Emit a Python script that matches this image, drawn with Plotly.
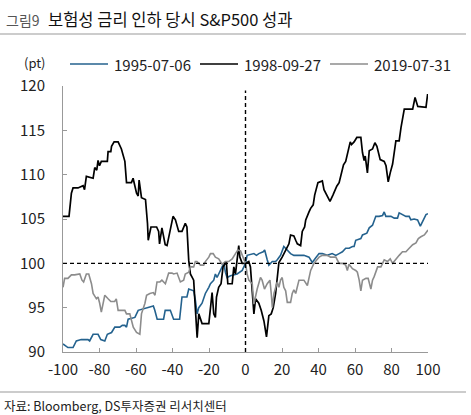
import plotly.graph_objects as go

# ---- data ----
x_1995 = [-100, -97.3, -94.5, -92.7, -90.0, -86.3, -85.4, -83.5, -80.8, -79.3, -77.1, -75.7, -73.4, -71.6, -68.9, -67.5, -66.1, -65.2, -64.3, -60.6, -58.8, -55.1, -53.3, -50.5, -49.7, -48.4, -44.9, -44.0, -41.2, -39.4, -36.1, -34.8, -32.1, -31.1, -28.4, -27.5, -26.5, -25.6, -23.8, -22.0, -20.1, -19.2, -17.4, -16.5, -15.6, -13.7, -11.9, -11.0, -10.1, -8.2, -4.6, -1.8, 0, 0.9, 4.6, 6.0, 7.3, 9.7, 10.5, 11.9, 12.8, 14.7, 16.5, 17.4, 19.2, 21.0, 22.9, 24.7, 26.5, 29.3, 32.0, 34.8, 36.6, 38.4, 40.3, 42.1, 44.8, 47.5, 49.5, 51.3, 53.1, 54.9, 56.8, 58.6, 59.5, 60.4, 63.2, 64.1, 66.5, 67.8, 69.6, 71.4, 73.2, 75.1, 76.0, 76.9, 79.7, 81.5, 83.3, 84.2, 86.0, 87.9, 89.7, 90.6, 92.4, 94.3, 95.8, 97.1, 98.9, 100]
y_1995 = [90.9, 90.5, 90.5, 91.25, 91.4, 91.4, 91.25, 92.0, 92.0, 91.4, 91.25, 92.0, 92.2, 92.8, 92.8, 93.0, 93.0, 92.8, 93.7, 93.9, 94.7, 94.9, 95.0, 95.2, 94.7, 93.7, 93.7, 94.7, 94.7, 93.7, 93.7, 96.2, 96.2, 97.1, 96.9, 95.9, 94.3, 95.0, 95.5, 96.6, 97.3, 97.7, 98.1, 98.8, 98.4, 99.2, 100.0, 99.0, 98.4, 98.6, 98.8, 99.2, 100.0, 100.9, 101.1, 100.9, 101.1, 101.3, 101.5, 100.4, 99.8, 100.2, 100.2, 100.4, 100.9, 101.9, 101.5, 101.1, 100.9, 100.9, 100.9, 100.7, 100.1, 100.6, 101.1, 101.1, 100.9, 101.1, 100.9, 101.1, 101.3, 101.7, 101.7, 101.9, 101.9, 102.6, 102.8, 103.2, 103.4, 104.0, 104.3, 105.3, 105.3, 105.4, 105.8, 105.3, 105.3, 105.1, 105.1, 105.7, 105.5, 105.3, 105.3, 104.9, 105.0, 104.9, 104.2, 104.7, 105.5, 105.6]

x_1998 = [-100, -96.7, -95.4, -94.5, -91.8, -89.0, -88.2, -87.2, -83.5, -82.6, -81.5, -80.8, -80.0, -79.0, -75.7, -75.3, -73.8, -73.4, -72.0, -69.8, -68.0, -66.1, -65.2, -62.5, -61.6, -60.7, -59.7, -58.8, -58.3, -57.0, -54.8, -53.7, -53.3, -51.8, -48.7, -47.6, -47.1, -45.8, -44.0, -43.0, -41.2, -39.7, -38.4, -36.6, -34.8, -33.0, -32.1, -31.1, -30.2, -28.4, -27.5, -26.5, -25.6, -23.8, -20.1, -19.2, -18.3, -17.4, -16.5, -15.9, -14.7, -13.4, -12.3, -11.0, -10.5, -9.7, -7.3, -6.4, -5.5, -4.2, -3.7, -3.1, -1.8, 0, 1.8, 2.7, 4.2, 4.6, 5.5, 7.3, 8.6, 10.1, 11.5, 12.8, 14.1, 15.2, 16.5, 17.4, 18.3, 20.1, 21.0, 22.9, 23.8, 24.7, 26.5, 27.5, 28.4, 30.2, 31.1, 32.4, 33.0, 34.8, 35.7, 37.1, 37.9, 39.7, 42.1, 43.0, 44.5, 46.3, 47.9, 50.0, 51.3, 53.7, 54.9, 56.8, 57.4, 58.1, 59.5, 61.0, 63.2, 64.1, 65.0, 65.6, 66.8, 67.8, 69.6, 70.9, 72.0, 73.8, 76.0, 77.0, 78.2, 79.3, 80.6, 82.4, 84.2, 85.2, 87.0, 91.6, 92.9, 94.4, 98.9, 99.8]
y_1998 = [105.3, 105.3, 107.9, 108.5, 108.5, 108.75, 108.3, 109.8, 109.6, 110.8, 110.5, 111.6, 111.0, 111.5, 111.5, 112.6, 112.6, 113.2, 113.7, 113.7, 112.9, 111.5, 109.1, 109.1, 109.6, 108.7, 107.9, 107.6, 109.4, 107.4, 107.2, 104.5, 102.6, 104.1, 104.1, 103.6, 102.2, 104.0, 102.1, 102.0, 103.9, 105.3, 104.9, 103.6, 103.6, 104.5, 104.1, 100.3, 98.8, 98.1, 95.0, 91.6, 94.3, 93.2, 93.2, 94.7, 96.7, 94.3, 93.9, 96.2, 97.3, 97.7, 99.6, 100.0, 100.2, 97.7, 97.7, 99.6, 98.8, 101.1, 102.0, 100.7, 100.0, 100.0, 100.2, 99.6, 95.8, 94.3, 96.0, 95.5, 94.7, 93.5, 91.7, 94.1, 94.3, 95.0, 96.6, 98.4, 100.1, 100.7, 101.1, 101.9, 102.2, 103.2, 103.1, 102.6, 102.2, 102.0, 103.6, 104.1, 104.9, 105.8, 106.2, 106.6, 107.7, 109.1, 109.3, 108.3, 107.7, 107.0, 107.7, 108.7, 109.1, 111.1, 111.5, 113.4, 113.7, 113.4, 113.7, 114.2, 114.2, 112.5, 111.6, 112.1, 110.2, 112.7, 112.9, 113.6, 113.2, 111.7, 111.5, 111.0, 109.2, 110.2, 111.2, 113.8, 113.8, 115.3, 117.4, 117.4, 118.7, 117.7, 117.6, 119.1]

x_2019 = [-100, -99.1, -97.3, -96.4, -95.4, -93.6, -91.8, -90.8, -89.6, -88.7, -87.2, -85.9, -84.4, -83.5, -81.7, -80.8, -79.9, -79.0, -78.1, -77.1, -75.3, -73.8, -72.6, -71.7, -70.8, -69.8, -66.1, -65.2, -63.4, -61.5, -59.7, -57.9, -57.0, -55.1, -54.2, -52.4, -50.5, -49.6, -48.5, -46.9, -45.8, -43.9, -42.1, -40.3, -39.4, -37.5, -35.7, -33.9, -33.0, -31.1, -30.2, -28.4, -27.5, -26.6, -24.7, -22.9, -22.0, -20.1, -19.2, -17.7, -16.5, -14.7, -12.8, -11.0, -9.2, -7.3, -5.5, -4.2, -2.7, -1.3, 0, 0.9, 1.8, 3.7, 4.6, 6.4, 8.2, 9.1, 10.4, 11.9, 13.4, 14.1, 14.7, 15.6, 16.5, 17.4, 18.3, 19.2, 20.1, 21.0, 22.0, 22.9, 24.7, 25.6, 26.5, 27.5, 29.3, 32.0, 33.9, 34.8, 35.7, 37.5, 40.3, 42.1, 44.8, 46.6, 49.5, 51.3, 53.1, 54.9, 55.8, 56.7, 58.6, 60.4, 61.3, 62.3, 63.2, 64.1, 66.0, 67.2, 68.7, 69.6, 70.5, 72.4, 74.2, 75.1, 76.0, 77.8, 79.3, 80.6, 82.4, 84.2, 86.0, 87.9, 89.7, 91.6, 93.4, 94.7, 96.1, 98.0, 100]
y_2019 = [97.3, 98.3, 98.3, 98.5, 98.7, 98.7, 98.8, 98.8, 98.1, 97.9, 98.8, 98.8, 97.7, 96.6, 96.0, 96.2, 95.5, 94.5, 95.4, 96.4, 96.0, 95.7, 95.7, 95.7, 96.0, 94.7, 94.7, 94.3, 94.3, 92.8, 92.2, 92.0, 94.3, 95.5, 96.4, 96.6, 96.7, 96.4, 97.9, 97.9, 98.1, 97.7, 98.9, 98.9, 98.8, 98.9, 97.9, 98.1, 98.8, 99.0, 99.6, 99.6, 100.2, 100.2, 99.8, 99.8, 100.2, 100.7, 101.1, 101.1, 100.7, 100.5, 99.9, 100.2, 100.2, 100.5, 101.1, 101.5, 101.4, 100.7, 100.0, 98.8, 98.1, 97.7, 95.4, 97.1, 98.4, 98.1, 97.1, 97.7, 98.1, 96.6, 95.0, 96.6, 97.3, 97.9, 97.3, 98.1, 98.4, 97.3, 96.9, 95.6, 95.6, 96.6, 97.0, 96.6, 98.1, 98.1, 97.5, 98.4, 99.2, 100.0, 100.7, 100.9, 100.9, 100.7, 100.7, 100.0, 100.0, 99.8, 99.2, 99.9, 99.4, 99.2, 99.0, 98.1, 96.9, 98.1, 98.3, 98.3, 97.1, 98.1, 98.5, 99.6, 99.6, 100.0, 100.4, 100.2, 100.5, 100.0, 100.5, 100.9, 101.3, 101.3, 101.7, 102.1, 102.3, 102.8, 103.0, 103.2, 103.75]

series_names = ["1995-07-06", "1998-09-27", "2019-07-31"]
x_ticks = [-100, -80, -60, -40, -20, 0, 20, 40, 60, 80, 100]
x_tick_labels = ["-100", "-80", "-60", "-40", "-20", "0", "20", "40", "60", "80", "100"]
y_ticks = [90, 95, 100, 105, 110, 115, 120]
title_prefix = "그림9"
title_text = "보험성 금리 인하 당시 S&P500 성과"
unit_text = "(pt)"
source_text = "자료: Bloomberg, DS투자증권 리서치센터"

# ---- layout geometry ----
W, H = 471, 415
L, R, T, B = 63, 428, 86, 352
FONT = "Noto Sans CJK KR"

def px(x):
    return (x - L) / (R - L)

def py(y):
    return (B - y) / (B - T)

colors = ["#24628e", "#000000", "#8c8c8c"]
widths = [1.6, 1.7, 1.6]

fig = go.Figure()
for name, xs, ys, c, w in zip(series_names, [x_1995, x_1998, x_2019],
                              [y_1995, y_1998, y_2019], colors, widths):
    fig.add_trace(go.Scatter(x=xs, y=ys, mode="lines", name=name,
                             line=dict(color=c, width=w)))

fig.update_layout(
    width=W, height=H,
    margin=dict(l=L, r=W - R, t=T, b=H - B, pad=0),
    paper_bgcolor="white", plot_bgcolor="white",
    font=dict(family=FONT, size=15, color="#222"),
    showlegend=False,
    xaxis=dict(range=[-100, 100], tickvals=x_ticks, ticktext=x_tick_labels,
               ticks="inside", ticklen=4,
               tickcolor="#999", showline=True, linecolor="#999", linewidth=1,
               showgrid=False, zeroline=False, ticklabelstandoff=4,
               tickfont=dict(size=15, color="#222")),
    yaxis=dict(range=[90, 120], tickvals=y_ticks, ticks="inside", ticklen=4,
               tickcolor="#999", showline=True, linecolor="#999", linewidth=1,
               showgrid=False, zeroline=False, ticklabelstandoff=14,
               tickfont=dict(size=15, color="#222")),
)

# reference lines
fig.add_shape(type="line", x0=-100, x1=100, y0=100, y1=100, xref="x", yref="y",
              line=dict(color="#000", width=1.4, dash="4px,3px"))
fig.add_shape(type="line", x0=0, x1=0, y0=90, y1=119.5, xref="x", yref="y",
              line=dict(color="#000", width=1.4, dash="4px,3px"))

# legend drawn as line samples + labels
leg_starts = [70, 200, 330]
for name, c, w, x0 in zip(series_names, colors, widths, leg_starts):
    fig.add_shape(type="line", xref="paper", yref="paper", x0=px(x0), x1=px(x0 + 38),
                  y0=py(64), y1=py(64), line=dict(color=c, width=w))
    fig.add_annotation(xref="paper", yref="paper", x=px(x0 + 42), y=py(64),
                       xanchor="left", yanchor="middle", showarrow=False, text=name,
                       font=dict(family=FONT, size=15, color="#222"))

# title rule and source rule
fig.add_shape(type="line", xref="paper", yref="paper", x0=px(0), x1=px(466),
              y0=py(34), y1=py(34), line=dict(color="#999", width=1))
fig.add_shape(type="line", xref="paper", yref="paper", x0=px(0), x1=px(466),
              y0=py(392), y1=py(392), line=dict(color="#999", width=1))

fig.add_annotation(xref="paper", yref="paper", x=px(4), y=py(20), xanchor="left",
                   yanchor="middle", showarrow=False, text=title_prefix,
                   font=dict(family=FONT, size=14, color="#555"))
fig.add_annotation(xref="paper", yref="paper", x=px(46), y=py(19), xanchor="left",
                   yanchor="middle", showarrow=False, text=title_text,
                   font=dict(family=FONT, size=16.5, color="#111"))
fig.add_annotation(xref="paper", yref="paper", x=px(35), y=py(63), xanchor="center",
                   yanchor="middle", showarrow=False, text=unit_text,
                   font=dict(family=FONT, size=13, color="#222"))
fig.add_annotation(xref="paper", yref="paper", x=px(2), y=py(405), xanchor="left",
                   yanchor="middle", showarrow=False, text=source_text,
                   font=dict(family=FONT, size=12.5, color="#222"))

fig.write_html("out.html")
